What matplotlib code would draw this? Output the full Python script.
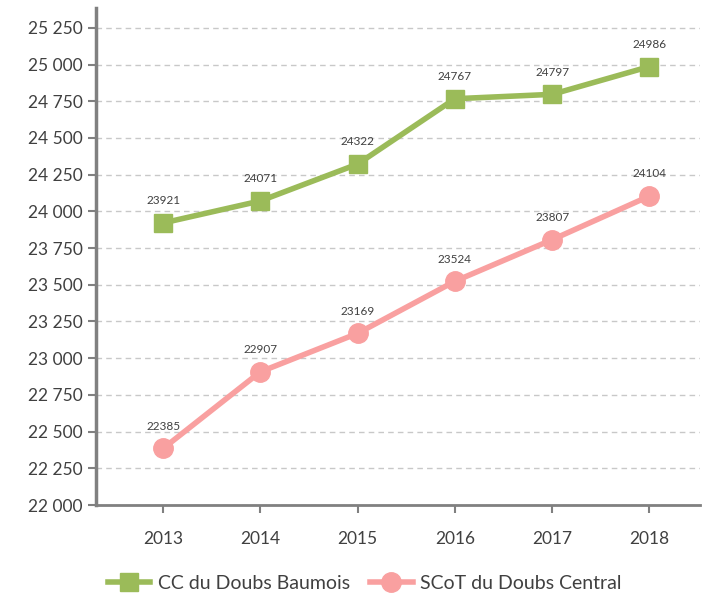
import numpy as np
import matplotlib
matplotlib.use("Agg")
import matplotlib.pyplot as plt
from matplotlib.ticker import FuncFormatter

plt.rcParams['font.family'] = ['Lato', 'DejaVu Sans']

years = [2013, 2014, 2015, 2016, 2017, 2018]
baumois = [23921, 24071, 24322, 24767, 24797, 24986]
central = [22385, 22907, 23169, 23524, 23807, 24104]
series_names = ["CC du Doubs Baumois", "SCoT du Doubs Central"]

green = "#9BBB59"
pink = "#F9A0A0"
txt = "#404040"

fig = plt.figure(figsize=(7.07, 5.97), dpi=100)
ax = fig.add_axes([96 / 707, 1 - 505 / 597, (700 - 96) / 707, (505 - 8) / 597])

ax.plot(years, baumois, color=green, lw=4, marker="s", ms=13, label=series_names[0], zorder=3)
ax.plot(years, central, color=pink, lw=4, marker="o", ms=14, label=series_names[1], zorder=3)

for x, y in zip(years, baumois):
    ax.annotate(str(y), (x, y), xytext=(0, 12), textcoords="offset points",
                ha="center", va="bottom", fontsize=8.5, color=txt)
for x, y in zip(years, central):
    ax.annotate(str(y), (x, y), xytext=(0, 12), textcoords="offset points",
                ha="center", va="bottom", fontsize=8.5, color=txt)

ax.set_ylim(22000, 25385)
ax.set_xlim(2012.31, 2018.52)
ax.set_yticks(np.arange(22000, 25251, 250))
ax.set_xticks(years)
ax.yaxis.set_major_formatter(FuncFormatter(lambda v, p: f"{int(v):,}".replace(",", " ")))
ax.grid(axis="y", color="#C8C8C8", ls=(0, (4, 3)), lw=1)
ax.set_axisbelow(True)

for s in ["top", "right"]:
    ax.spines[s].set_visible(False)
ax.spines["left"].set_color("#808080")
ax.spines["left"].set_linewidth(2.5)
ax.spines["bottom"].set_color("#808080")
ax.spines["bottom"].set_linewidth(2)
ax.spines["bottom"].set_linestyle((0, (4, 1)))
ax.tick_params(axis="both", colors="#808080", width=1.5, length=6, labelcolor=txt, labelsize=12.5)
ax.tick_params(axis="x", pad=13)

ax.legend(loc="upper center", bbox_to_anchor=(0.445, -0.105), ncol=2, frameon=False,
          fontsize=14, labelcolor=txt, handlelength=2.2, columnspacing=1.0, handletextpad=0.4)

fig.savefig("out.png", dpi=100)
